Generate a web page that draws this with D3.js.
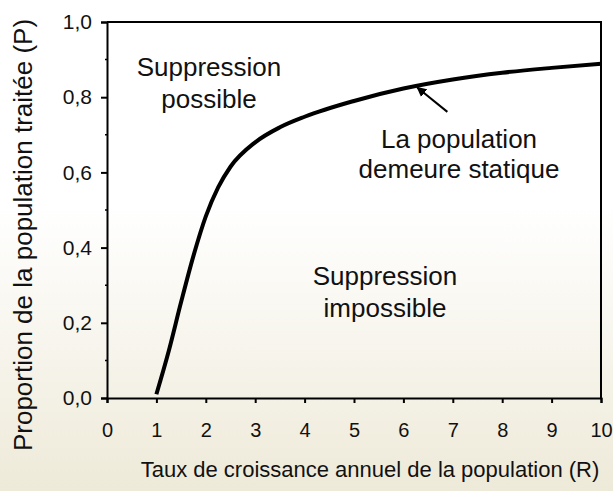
<!DOCTYPE html>
<html>
<head>
<meta charset="utf-8">
<script src="https://cdn.jsdelivr.net/npm/d3@7"></script>
<style>
  html, body { margin: 0; padding: 0; }
  body { width: 613px; height: 491px; overflow: hidden; }
  text { font-family: "Liberation Sans", Arial, Helvetica, sans-serif; fill: #111; }
</style>
</head>
<body>
<div id="chart"></div>
<script>
// Taux de croissance (R) et proportion traitée (P)
const rateR = [1, 1.25, 1.5, 1.75, 2, 2.25, 2.5, 3, 3.5, 4, 5, 6, 7, 8, 9, 10];
const propP = [0.01, 0.125, 0.255, 0.378, 0.483, 0.56, 0.615, 0.68, 0.72, 0.748, 0.79, 0.823, 0.847, 0.865, 0.878, 0.889];
const xTicks = [0, 1, 2, 3, 4, 5, 6, 7, 8, 9, 10];
const yTicks = [0, 0.2, 0.4, 0.6, 0.8, 1.0];
const yMinor = [0.1, 0.3, 0.5, 0.7, 0.9];

const width = 613, height = 491;
const margin = { top: 22, right: 12, bottom: 93, left: 107 };

const svg = d3.select("#chart").append("svg")
    .attr("width", width)
    .attr("height", height);

// Fond dégradé
const defs = svg.append("defs");
const grad = defs.append("linearGradient")
    .attr("id", "bg")
    .attr("x1", 0).attr("y1", 0).attr("x2", 0).attr("y2", 1);
grad.append("stop").attr("offset", "0%").attr("stop-color", "#ffffff");
grad.append("stop").attr("offset", "42%").attr("stop-color", "#ffffff");
grad.append("stop").attr("offset", "100%").attr("stop-color", "#eeead9");
svg.append("rect").attr("width", width).attr("height", height).attr("fill", "url(#bg)");

const x = d3.scaleLinear().domain([0, 10]).range([margin.left, width - margin.right]);
const y = d3.scaleLinear().domain([0, 1]).range([height - margin.bottom, margin.top]);

// Cadre
svg.append("path")
    .attr("d", `M${x(0)},${y(1)}H${x(10)}V${y(0)}`)
    .attr("fill", "none")
    .attr("stroke", "#000")
    .attr("stroke-width", 2);

// Axe X
const fmt = d3.format(".1f");
const gx = svg.append("g")
    .attr("transform", `translate(0,${y(0)})`)
    .call(d3.axisBottom(x).tickValues(xTicks).tickSize(5).tickPadding(20).tickFormat(d3.format("d")));
gx.select(".domain").attr("stroke-width", 2);
gx.selectAll(".tick line").attr("stroke-width", 2);
gx.selectAll(".tick text").style("font-size", "20px");

// Axe Y
const gy = svg.append("g")
    .attr("transform", `translate(${x(0)},0)`)
    .call(d3.axisLeft(y).tickValues(yTicks).tickSize(6).tickPadding(9)
        .tickFormat(d => fmt(d).replace(".", ",")));
gy.select(".domain").attr("stroke-width", 2);
gy.selectAll(".tick line").attr("stroke-width", 2);
gy.selectAll(".tick text").style("font-size", "21px");

svg.append("g")
    .selectAll("line")
    .data(yMinor)
    .enter().append("line")
    .attr("x1", x(0) - 2).attr("x2", x(0))
    .attr("y1", d => y(d)).attr("y2", d => y(d))
    .attr("stroke", "#000").attr("stroke-width", 1.5);

// Courbe
const line = d3.line()
    .x((d, i) => x(rateR[i]))
    .y(d => y(d))
    .curve(d3.curveMonotoneX);
svg.append("path")
    .datum(propP)
    .attr("d", line)
    .attr("fill", "none")
    .attr("stroke", "#000")
    .attr("stroke-width", 4);

// Titres des axes
svg.append("text")
    .attr("x", 370).attr("y", 477)
    .attr("text-anchor", "middle")
    .style("font-size", "22px")
    .text("Taux de croissance annuel de la population (R)");

svg.append("text")
    .attr("transform", `translate(32,${235}) rotate(-90)`)
    .attr("text-anchor", "middle")
    .style("font-size", "26px")
    .text("Proportion de la population traitée (P)");

// Annotations
function label(lines, cx, cy, step) {
    const t = svg.append("text")
        .attr("text-anchor", "middle")
        .style("font-size", "26px");
    lines.forEach((s, i) => {
        t.append("tspan").attr("x", cx).attr("y", cy + i * step).text(s);
    });
}
label(["Suppression", "possible"], 209, 76, 32);
label(["La population", "demeure statique"], 459, 148, 30);
label(["Suppression", "impossible"], 385, 285, 32);

// Flèche
defs.append("marker")
    .attr("id", "arrow")
    .attr("viewBox", "0 -5 10 10")
    .attr("refX", 9)
    .attr("refY", 0)
    .attr("markerWidth", 5)
    .attr("markerHeight", 5)
    .attr("orient", "auto")
    .append("path")
    .attr("d", "M0,-5L10,0L0,5Z")
    .attr("fill", "#000");

svg.append("line")
    .attr("x1", x(6.89)).attr("y1", y(0.761))
    .attr("x2", x(6.28)).attr("y2", y(0.826))
    .attr("stroke", "#000")
    .attr("stroke-width", 2)
    .attr("marker-end", "url(#arrow)");
</script>
</body>
</html>
